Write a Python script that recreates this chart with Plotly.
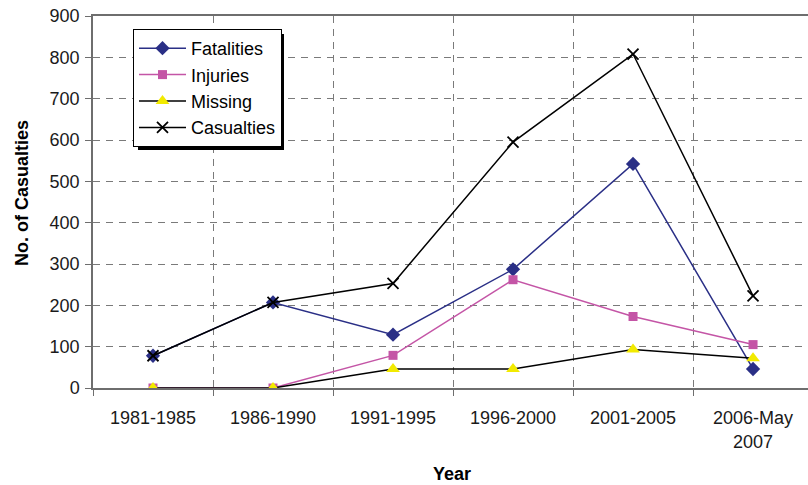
import plotly.graph_objects as go

# Five-year periods on the category axis
periods = ["1981-1985", "1986-1990", "1991-1995", "1996-2000", "2001-2005", "2006-May<br>2007"]

# Casualty counts per period
fatalities = [78, 207, 129, 287, 542, 46]
injuries = [0, 0, 79, 262, 173, 105]
missing = [0, 0, 46, 46, 93, 72]
casualties = [78, 207, 253, 595, 808, 223]

FONT = "Liberation Sans, Arial, sans-serif"
GRID = "#7a7a7a"
AXIS = "#6e6e6e"

# legend box placement, in pixels from the top-left of the page
LEG_X, LEG_Y, LEG_W, LEG_H = 133, 29, 147, 117


def px_x(p):
    return (p - 93) / 715


def px_y(p):
    return (388 - p) / 372


fig = go.Figure()

fig.add_trace(go.Scatter(
    x=periods, y=fatalities, name="Fatalities", mode="lines+markers",
    line=dict(color="#2A2F86", width=1.5),
    marker=dict(symbol="diamond", size=11, color="#2A2F86"),
))
fig.add_trace(go.Scatter(
    x=periods, y=injuries, name="Injuries", mode="lines+markers",
    line=dict(color="#C455A6", width=1.5),
    marker=dict(symbol="square", size=9, color="#C455A6"),
))
fig.add_trace(go.Scatter(
    x=periods, y=missing, name="Missing", mode="lines+markers",
    line=dict(color="#000000", width=1.5),
    marker=dict(symbol="triangle-up", size=12, color="#F2EA00"),
))
fig.add_trace(go.Scatter(
    x=periods, y=casualties, name="Casualties", mode="lines+markers",
    line=dict(color="#000000", width=1.5),
    marker=dict(symbol="x-thin", size=11, color="#000000",
                line=dict(color="#000000", width=1.8)),
))

fig.update_layout(
    width=808, height=485,
    margin=dict(l=93, r=0, t=16, b=97),
    paper_bgcolor="white", plot_bgcolor="white",
    font=dict(family=FONT, size=18, color="#1a1a1a"),
    showlegend=True,
    legend=dict(
        x=px_x(LEG_X), y=px_y(LEG_Y),
        xanchor="left", yanchor="top",
        bgcolor="white", bordercolor="#000000", borderwidth=1,
        font=dict(family=FONT, size=18, color="#000000"),
        tracegroupgap=0, itemwidth=47,
    ),
    xaxis=dict(
        type="category", range=[-0.5, 5.458],
        tickson="boundaries", ticks="outside", ticklen=6, tickcolor=AXIS,
        showline=True, linecolor=AXIS, linewidth=1.5, mirror=True,
        showgrid=True, gridcolor=GRID, griddash="7px,6px", gridwidth=1,
        tickfont=dict(size=18), ticklabelstandoff=13,
    ),
    yaxis=dict(
        range=[0, 900], dtick=100, tick0=0,
        ticks="outside", ticklen=6, tickcolor=AXIS,
        showline=True, linecolor=AXIS, linewidth=1.5,
        showgrid=True, gridcolor=GRID, griddash="7px,6px", gridwidth=1,
        zeroline=False, tickfont=dict(size=18), ticklabelstandoff=2,
    ),
    annotations=[
        dict(text="<b>Year</b>", xref="paper", yref="paper",
             x=px_x(452), y=px_y(474),
             xanchor="center", yanchor="middle", showarrow=False,
             font=dict(size=18, color="#000000")),
        dict(text="<b>No. of Casualties</b>", xref="paper", yref="paper",
             x=px_x(22), y=px_y(193), textangle=-90,
             xanchor="center", yanchor="middle", showarrow=False,
             font=dict(size=18, color="#000000")),
    ],
    shapes=[
        # drop shadow behind the legend box
        dict(type="rect", xref="paper", yref="paper", layer="above",
             x0=px_x(LEG_X + 5), x1=px_x(LEG_X + LEG_W + 4),
             y0=px_y(LEG_Y + LEG_H + 4), y1=px_y(LEG_Y + 5),
             fillcolor="#000000", line=dict(width=0)),
    ],
)

fig.write_html("out.html")
